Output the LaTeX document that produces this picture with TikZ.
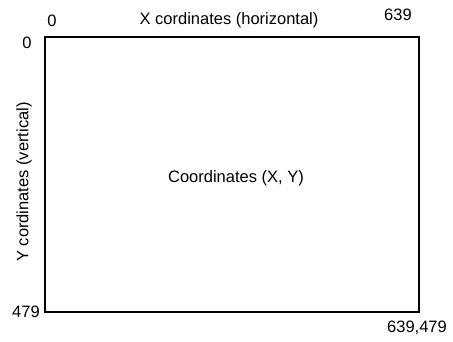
\documentclass[tikz,border=0pt]{standalone}
\usepackage{fontspec}
\setmainfont{Liberation Sans}
\begin{document}
\begin{tikzpicture}[x=1pt,y=1pt,
  lbl/.style={font=\fontsize{16.5}{18}\selectfont, inner sep=0pt, anchor=center}]
\useasboundingbox (0,0) rectangle (453,342);
\node[draw, line width=2pt, minimum width=374pt, minimum height=275pt, inner sep=0pt] (screen) at (232,167.5) {};
\node[lbl] (center) at (236,164) {Coordinates (X, Y)};
\node[lbl] (xlab) at (229,322) {X cordinates (horizontal)};
\node[lbl] (x0) at (52,321) {0};
\node[lbl] (y0) at (27,299) {0};
\node[lbl] (x639) at (398,327) {639};
\node[lbl] (y479) at (26,30) {479};
\node[lbl] (corner) at (417,14) {639,479};
\node[lbl, rotate=90] (ylab) at (24,160) {Y cordinates (vertical)};
\end{tikzpicture}
\end{document}
